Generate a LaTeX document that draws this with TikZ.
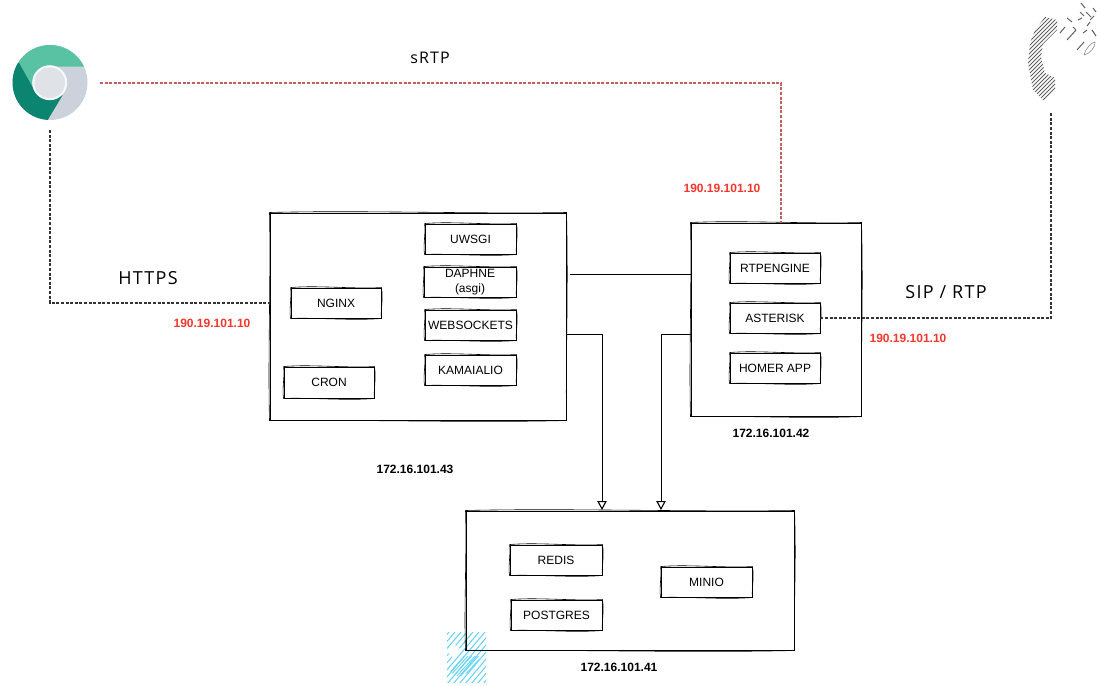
\documentclass[tikz,border=0pt]{standalone}
\usepackage{fontspec}
\setmainfont{Liberation Sans}
\newfontfamily\handfont[LetterSpace=7]{Open Sans}
\usetikzlibrary{arrows.meta,calc}
\definecolor{srtpred}{HTML}{C4605B}
\definecolor{ipred}{HTML}{F5362C}
\definecolor{hatchblue}{HTML}{62D3F2}
\definecolor{chrlight}{HTML}{58C2A2}
\definecolor{chrdark}{HTML}{0C8570}
\definecolor{chrgrey}{HTML}{CBD2DB}
\definecolor{chrcore}{HTML}{DFE2E6}
\tikzset{
  x=1pt,y=-1pt,
  inner/.style={font=\fontsize{12}{13}\selectfont,align=center,inner sep=0pt,draw=black,line width=.9pt},
  outer/.style={inner sep=0pt,draw=black,line width=1pt},
  sketch/.style={draw=black,line width=.6pt},
  ipaddr/.style={font=\bfseries\fontsize{12}{13}\selectfont,text=ipred},
  hostaddr/.style={font=\bfseries\fontsize{12}{13}\selectfont,text=black},
  hand/.style={font=\handfont\fontsize{18}{20}\selectfont,text=black},
  wire/.style={draw=black,line width=1pt},
  wirearrow/.style={wire,-{Triangle[open,length=9pt,width=9.5pt,line width=1.1pt]}},
  dashwire/.style={draw=black!80,line width=1.1pt,dash pattern=on 3pt off 1.6pt},
  redwire/.style={draw=srtpred,line width=1.1pt,dash pattern=on 3pt off 1.6pt},
}
% box(name, x1, y1, x2, y2, text, style)
\newcommand{\skbox}[7]{%
  \node[#7,minimum width={#4pt-#2pt},minimum height={#5pt-#3pt}] (#1) at ({(#2+#4)/2},{(#3+#5)/2}) {#6};
  \draw[sketch] (#1.north west) .. controls ($(#1.north west)!.3!(#1.north east)+(0,-2.4)$) and ($(#1.north west)!.7!(#1.north east)+(0,1.6)$) .. (#1.north east)
    .. controls ($(#1.north east)!.4!(#1.south east)+(2,0)$) and ($(#1.north east)!.7!(#1.south east)+(-1,0)$) .. (#1.south east)
    .. controls ($(#1.south east)!.3!(#1.south west)+(0,2.4)$) and ($(#1.south east)!.7!(#1.south west)+(0,-1)$) .. (#1.south west)
    .. controls ($(#1.south west)!.3!(#1.north west)+(-1.6,0)$) and ($(#1.south west)!.7!(#1.north west)+(1.4,0)$) .. (#1.north west);
}
\begin{document}
\begin{tikzpicture}
\useasboundingbox (0,0) rectangle (1097,685);
% blue hatching
\begin{scope}
  \clip (447,632) rectangle (486,682);
  \foreach \k in {-48,-42,...,36}
    \draw[hatchblue,line width=1pt] ({447+\k},{684}) -- ({447+\k+44},{632});
\end{scope}
\fill[white] (454,651) circle (6);
\begin{scope}
  \clip (450,672) -- (463,656) -- (481,656) -- (470,672) -- (458,677) -- cycle;
  \foreach \k in {-14,-10.5,...,26}
    \draw[hatchblue,line width=.9pt] ({450+\k},{676}) -- ({450+\k+18},{656});
\end{scope}
% chrome icon
\node[circle,minimum size=75pt,inner sep=0pt] (chrome) at (50,82.5) {};
\begin{scope}
  \clip (50,82.5) circle (37.5);
  \fill[chrgrey] (10,40) rectangle (90,125);
  \fill[chrlight] (19,62.7) -- (19,30) -- (100,30) -- (100,66.7) -- (50,66.7) -- (33.3,88.3) -- cycle;
  \fill[chrdark] (19,62.7) -- (33.3,88.3) -- (62.7,95) -- (47.7,120) -- (47.7,125) -- (0,125) -- (0,62.7) -- cycle;
\end{scope}
\fill[white!75!chrcore] (49.7,82.7) circle (17.5);
\fill[chrcore] (49.7,82.7) circle (15.3);
% phone icon
\coordinate (phonebase) at (1051,113);
\begin{scope}
  \clip (1045,17) -- (1057,20) -- (1057,30) -- (1043,44) -- (1041,57) -- (1045,73) -- (1055,78) -- (1055,97) -- (1043,100) -- (1033,90) -- (1028,63) -- (1030,43) -- (1035,30) -- cycle;
  \foreach \k in {-50,-46,...,40}
    \draw[black!62,line width=1pt] ({1000+\k},{105}) -- ({1000+\k+110},{-5});
\end{scope}
\foreach \a/\b/\c/\d in {1060/33/1065/27,1067/40/1076/30,1077/50/1084/42,1083/33/1087/30,1078/20/1082/18,1087/26/1090/22,1067/18/1072/22,1073/27/1076/30,1086/12/1091/17,1081/3/1085/8,1080/12/1084/16,1093/8/1096/12,1090/20/1094/16,1092/30/1096/36}
  \draw[black!62,line width=1pt] (\a,\b) -- (\c,\d);
\draw[black!45,line width=.6pt] (1084,55) .. controls (1085,49) and (1092,42) .. (1095,42) .. controls (1096,46) and (1090,54) .. (1084,55);
% boxes
\skbox{web}{270}{213}{566}{420}{}{outer}
\skbox{pbx}{691}{223}{861}{416}{}{outer}
\skbox{db}{466}{511}{794}{650}{}{outer}
\skbox{uwsgi}{425}{224}{516}{254}{UWSGI}{inner}
\skbox{daphne}{424}{267}{516}{297}{DAPHNE\\[2.5pt](asgi)}{inner}
\skbox{websockets}{425}{310}{516}{340}{WEBSOCKETS}{inner}
\skbox{kamailio}{425}{355}{516}{385}{KAMAIALIO}{inner}
\skbox{nginx}{291}{288}{381}{318}{NGINX}{inner}
\skbox{cron}{284}{367}{374}{398}{CRON}{inner}
\skbox{rtp}{730}{253}{820}{283}{RTPENGINE}{inner}
\skbox{asterisk}{730}{303}{820}{333}{ASTERISK}{inner}
\skbox{homer}{730}{353}{820}{383}{HOMER APP}{inner}
\skbox{redis}{510}{545}{602}{575}{REDIS}{inner}
\skbox{postgres}{511}{600}{602}{630}{POSTGRES}{inner}
\skbox{minio}{661}{567}{752}{597}{MINIO}{inner}
% connector free ends
\coordinate (chromeout) at (50,130);
\coordinate (chromeright) at (100,83);
\coordinate (webleft) at (270,303);
\coordinate (pbxtop) at (781,223);
\coordinate (webright) at (570,274);
\coordinate (pbxleft) at (691,274);
\coordinate (webdb) at (566,334);
\coordinate (webnotch) at (566,318);
\coordinate (dbl) at (602,510);
\coordinate (pbxdb) at (691,334);
\coordinate (dbr) at (661,510);
% connectors
\draw[dashwire] (chromeout) -- (chromeout |- webleft) -- (webleft);
\draw[dashwire,xshift=.9pt,yshift=-1.2pt] (chromeout) -- (chromeout |- webleft) -- (webleft);
\draw[redwire] (chromeright) -- (pbxtop |- chromeright) -- (pbxtop);
\draw[redwire,xshift=-1pt,yshift=1pt] (chromeright) -- (pbxtop |- chromeright) -- (pbxtop);
\draw[wire] (webright) -- (pbxleft);
\draw[wirearrow] (webnotch) -- (webdb) -- (dbl |- webdb) -- (dbl);
\draw[wirearrow] (pbxdb) -- (dbr |- pbxdb) -- (dbr);
\draw[dashwire] (asterisk.east) -- (phonebase |- asterisk.east) -- (phonebase);
\draw[dashwire,xshift=.9pt,yshift=1pt] (asterisk.east) -- (phonebase |- asterisk.east) -- (phonebase);
% labels
\node[hand] (lhttps) at (148,278) {HTTPS};
\node[hand,font=\handfont\fontsize{16}{18}\selectfont] (lsrtp) at (430,58) {sRTP};
\node[hand] (lsip) at (946,292) {SIP / RTP};
\node[ipaddr] (ip1) at (212,323) {190.19.101.10};
\node[ipaddr] (ip2) at (722,188) {190.19.101.10};
\node[ipaddr] (ip3) at (908,338) {190.19.101.10};
\node[hostaddr] (h43) at (415,469) {172.16.101.43};
\node[hostaddr] (h42) at (771,433) {172.16.101.42};
\node[hostaddr] (h41) at (619,667) {172.16.101.41};
\end{tikzpicture}
\end{document}
